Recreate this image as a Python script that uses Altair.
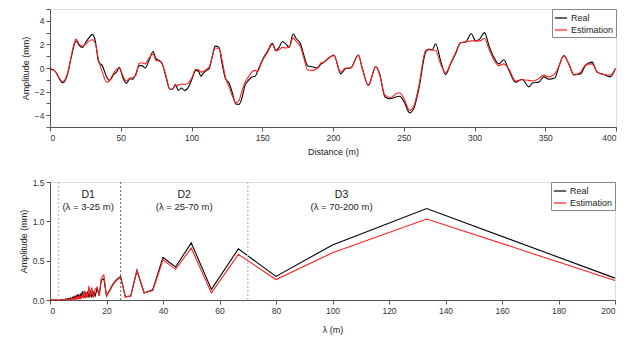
import altair as alt
import pandas as pd

# ---------------- top panel: profile ----------------
distance = [0, 3, 9, 12.5, 15, 18.4, 20.7, 23, 25.4, 27.8, 30, 32, 34.4, 37, 40, 41.9, 45.4, 47, 49,
            51.3, 54, 56.5, 58.4, 60.7, 63, 65, 67.3, 70, 72.9, 74.8, 77, 79, 81.9, 84.7, 86.6, 88.5,
            90.8, 93, 95, 97.4, 100, 103, 105, 106.6, 108, 110.6, 112.5, 114.8, 116.7, 119.5, 121.4,
            124, 126.6, 129, 131.3, 133.6, 135.5, 137.9, 140.2, 143, 145, 146.6, 150, 153.6, 157.2,
            159.5, 161.9, 164.2, 166.6, 169, 171.8, 174, 177, 179.5, 182, 185.4, 189, 191.3, 193.6,
            196.7, 200.7, 205.4, 209, 212.5, 217.9, 220.7, 225, 230.2, 233, 236.7, 240.8, 244.3,
            247.1, 250.2, 254.2, 257.2, 260.7, 265.5, 267.8, 270.2, 272.5, 276, 279.6, 283.1, 286.6,
            290.2, 293.7, 297.7, 300.8, 303.6, 307.1, 310.2, 313.7, 317.2, 320.7, 324.3, 329, 333.7,
            338.4, 341.2, 345.4, 349, 352.5, 356.7, 359.6, 363.1, 366.6, 370.2, 374.9, 378.4, 383.1,
            386.6, 391.3, 396, 399.6]
amp_real = [-0.1, -0.2, -1.25, -0.5, 0.9, 2.3, 1.9, 1.75, 2.2, 2.6, 2.85, 2.3, 0.5, 0.2, -0.75, -1.05,
            -0.5, -0.35, 0.05, -0.75, -1.3, -0.9, -0.95, -0.5, 0.2, 0.2, 0.0, 0.65, 1.4, 0.8, 0.65,
            0.45, -0.75, -1.8, -1.8, -1.4, -1.9, -1.7, -1.9, -1.7, -1.05, -0.2, -0.3, -0.7, -0.5,
            -0.2, -0.05, 1.05, 1.85, 1.75, 0.5, -0.9, -1.3, -2.15, -3.05, -3.08, -2.6, -1.45, -1.05,
            -0.75, -0.7, -0.3, 0.65, 1.4, 2.1, 1.5, 1.75, 2.25, 2.05, 1.75, 2.9, 2.5, 2.05, 1.05,
            0.2, 0.1, 0.0, 0.3, 0.5, 0.8, 1.1, -0.5, -0.05, 0.0, 1.1, -0.05, -1.45, 0.1, -0.5,
            -2.45, -2.6, -2.45, -2.4, -2.85, -3.8, -3.4, -1.75, 1.35, 1.6, 1.55, 2.05, 0.65, -0.55,
            0.35, 1.2, 2.15, 2.2, 2.9, 2.3, 2.45, 3.0, 1.9, 0.9, 0.35, 0.7, -0.2, -1.2, -0.95, -1.6,
            -1.25, -1.2, -0.75, -0.95, -0.85, 0.1, 1.05, 0.35, -0.55, -0.5, 0.2, 0.5, -0.35, -0.55,
            -0.75, -0.05]
amp_est = [-0.05, -0.2, -1.15, -0.4, 1.0, 2.45, 2.0, 1.85, 2.05, 2.3, 2.4, 2.1, 0.65, -0.35, -1.2,
           -1.1, -0.35, -0.1, 0.0, -0.6, -1.1, -0.85, -0.8, -0.6, 0.4, 0.45, 0.35, 0.85, 1.2, 0.65,
           0.6, 0.4, -0.6, -1.8, -1.75, -1.5, -1.45, -1.35, -1.4, -1.3, -0.9, -0.1, -0.15, -0.35,
           -0.3, -0.1, 0.1, 1.0, 1.7, 1.65, 0.8, -0.8, -1.6, -2.4, -2.95, -2.75, -2.0, -1.2, -0.75,
           -0.3, -0.2, -0.3, 0.6, 1.3, 2.0, 1.45, 1.55, 1.75, 1.7, 1.75, 2.55, 2.25, 1.8, 0.8,
           -0.15, -0.2, 0.0, 0.4, 0.5, 0.85, 1.05, -0.35, 0.0, 0.0, 1.1, 0.0, -1.5, 0.1, -0.6,
           -2.3, -2.5, -2.2, -2.1, -2.6, -3.6, -3.2, -1.5, 1.5, 1.55, 1.5, 1.5, 0.35, -0.4, 0.4,
           1.3, 2.15, 2.2, 2.3, 2.3, 2.3, 2.5, 1.6, 0.7, 0.2, 0.35, -0.1, -1.1, -1.0, -1.05, -1.1,
           -0.9, -0.6, -0.75, -0.5, 0.15, 1.05, 0.35, -0.6, -0.35, 0.25, 0.35, -0.3, -0.55, -0.6,
           -0.05]

# ---------------- bottom panel: spectrum ----------------
wavelength = [0, 3.0, 3.48, 4.0, 4.44, 5.0, 5.48, 5.97, 6.45, 6.9, 7.27, 7.69, 8.0, 8.33, 8.51, 8.70,
              8.89, 9.09, 9.30, 9.52, 9.76, 10.0, 10.26, 10.53, 10.81, 11.11, 11.43, 11.76, 12.12,
              12.5, 12.9, 13.33, 13.79, 14.29, 14.81, 15.38, 16.0, 16.67, 17.39, 18.18, 19.05, 20.0,
              21.05, 22.22, 23.53, 25.0, 26.67, 28.57, 30.77, 33.33, 36.36, 40.0, 44.44, 50.0,
              57.14, 66.67, 80.0, 100.0, 133.33, 200.0]
spec_real = [0.0, 0.0, 0.002, 0.003, 0.006, 0.005, 0.012, 0.01, 0.02, 0.01, 0.03, 0.01, 0.035, 0.02,
             0.04, 0.01, 0.05, 0.02, 0.05, 0.03, 0.07, 0.02, 0.06, 0.03, 0.08, 0.02, 0.11, 0.08, 0.03,
             0.09, 0.05, 0.11, 0.03, 0.12, 0.04, 0.10, 0.05, 0.15, 0.06, 0.25, 0.27, 0.05, 0.12,
             0.20, 0.26, 0.30, 0.04, 0.05, 0.375, 0.09, 0.13, 0.54, 0.42, 0.725, 0.135, 0.65, 0.30,
             0.70, 1.163, 0.278]
spec_est = [0.0, 0.0, 0.001, 0.002, 0.003, 0.005, 0.005, 0.01, 0.005, 0.015, 0.01, 0.02, 0.01, 0.02,
            0.01, 0.03, 0.01, 0.03, 0.01, 0.05, 0.02, 0.04, 0.01, 0.07, 0.02, 0.04, 0.06, 0.02, 0.12,
            0.02, 0.10, 0.03, 0.18, 0.04, 0.16, 0.03, 0.14, 0.16, 0.05, 0.28, 0.32, 0.06, 0.11,
            0.19, 0.25, 0.29, 0.04, 0.05, 0.38, 0.09, 0.12, 0.51, 0.39, 0.66, 0.09, 0.58, 0.26,
            0.60, 1.03, 0.248]

band_edges = [3, 25, 70]
band_names = ["D1", "D2", "D3"]
band_ranges = ["(λ = 3-25 m)", "(λ = 25-70 m)", "(λ = 70-200 m)"]
band_centers = [13.5, 47.5, 103.2]
name_y = [1.33, 1.33, 1.33]
range_y = [1.18, 1.18, 1.18]

bottom_y_ticks = [0.0, 0.5, 1.0, 1.5]
bottom_x_ticks = list(range(0, 201, 20))

series = ["Real", "Estimation"]
colors = ["#000000", "#ff2020"]

FONT = "Liberation Sans"

top_df = pd.DataFrame({
    "Distance": distance * 2,
    "Amplitude": amp_real + amp_est,
    "Series": ["Real"] * len(distance) + ["Estimation"] * len(distance),
})
bot_df = pd.DataFrame({
    "Lambda": wavelength * 2,
    "Amplitude": spec_real + spec_est,
    "Series": ["Real"] * len(wavelength) + ["Estimation"] * len(wavelength),
})

legend = alt.Legend(title=None, orient="top-right", offset=0, strokeColor="#888888",
                    fillColor="white", padding=2, symbolType="stroke", symbolStrokeWidth=1.2,
                    symbolSize=150, labelFontSize=9, labelFont=FONT, rowPadding=0, labelColor="#222",
                    labelOffset=3)
color_scale = alt.Scale(domain=series, range=colors)

top = alt.Chart(top_df).mark_line(strokeWidth=1.1, interpolate="monotone").encode(
    x=alt.X("Distance:Q", title="Distance (m)", scale=alt.Scale(domain=[0, 400], nice=False),
            axis=alt.Axis(values=list(range(0, 401, 50)), titlePadding=6)),
    y=alt.Y("Amplitude:Q", title="Amplitude (mm)", scale=alt.Scale(domain=[-5, 5], nice=False),
            axis=alt.Axis(values=list(range(-5, 6)),
                          labelExpr="datum.value % 2 == 0 && abs(datum.value) < 5 ? datum.label : ''")),
    color=alt.Color("Series:N", scale=color_scale, legend=legend, sort=series),
    order=alt.Order("Distance:Q"),
).properties(width=566, height=118)

y_bot = alt.Scale(domain=[0, 1.5], nice=False, zero=False)
x_bot = alt.Scale(domain=[0, 200], nice=False)
y_axis_bot = alt.Axis(values=bottom_y_ticks, labelExpr="format(datum.value, '.1f')",
                      labelOverlap=False, tickCount=4)
x_axis_bot = alt.Axis(values=bottom_x_ticks, titlePadding=11)

bot_lines = alt.Chart(bot_df).mark_line(strokeWidth=1.1).encode(
    x=alt.X("Lambda:Q", title="λ (m)", scale=x_bot, axis=x_axis_bot),
    y=alt.Y("Amplitude:Q", title="Amplitude (mm)", scale=y_bot, axis=y_axis_bot),
    color=alt.Color("Series:N", scale=color_scale, legend=legend, sort=series),
    order=alt.Order("Lambda:Q"),
)

vl_df = pd.DataFrame({"Lambda": band_edges})
rule_light = alt.Chart(vl_df).transform_filter("datum.Lambda != 25").mark_rule(
    color="#c8c8c8", strokeWidth=1.6, strokeDash=[2, 2]).encode(
    x=alt.X("Lambda:Q", title="λ (m)", axis=x_axis_bot))
rule_dark = alt.Chart(vl_df).transform_filter("datum.Lambda == 25").mark_rule(
    color="#555555", strokeWidth=0.9, strokeDash=[2, 2]).encode(
    x=alt.X("Lambda:Q", title="λ (m)", axis=x_axis_bot))

ann_df = pd.DataFrame({"x": band_centers, "name": band_names, "rng": band_ranges,
                       "y1": name_y, "y2": range_y})
ann1 = alt.Chart(ann_df).mark_text(fontSize=10.5, font=FONT, color="#222").encode(
    x=alt.X("x:Q", title="λ (m)", axis=x_axis_bot),
    y=alt.Y("y1:Q", title="Amplitude (mm)", axis=y_axis_bot), text="name:N")
ann2 = alt.Chart(ann_df).mark_text(fontSize=9.5, font=FONT, color="#222").encode(
    x=alt.X("x:Q", title="λ (m)", axis=x_axis_bot),
    y=alt.Y("y2:Q", title="Amplitude (mm)", axis=y_axis_bot), text="rng:N")

bottom = alt.layer(bot_lines, rule_light, rule_dark, ann1, ann2).properties(width=565, height=118)

chart = alt.vconcat(top, bottom, spacing=20).resolve_scale(color="independent").properties(
    padding={"left": 10, "top": 0, "right": 2, "bottom": 0}
).configure_view(stroke="#dddddd").configure_axis(
    grid=False, domainColor="#555555", tickColor="#555555", labelColor="#333333",
    titleColor="#222222", labelFont=FONT, titleFont=FONT, labelFontSize=8.5, titleFontSize=9,
    titleFontWeight="normal", tickSize=4, labelPadding=2
)

chart.save("out.html", embed_options={"renderer": "svg", "actions": False})
